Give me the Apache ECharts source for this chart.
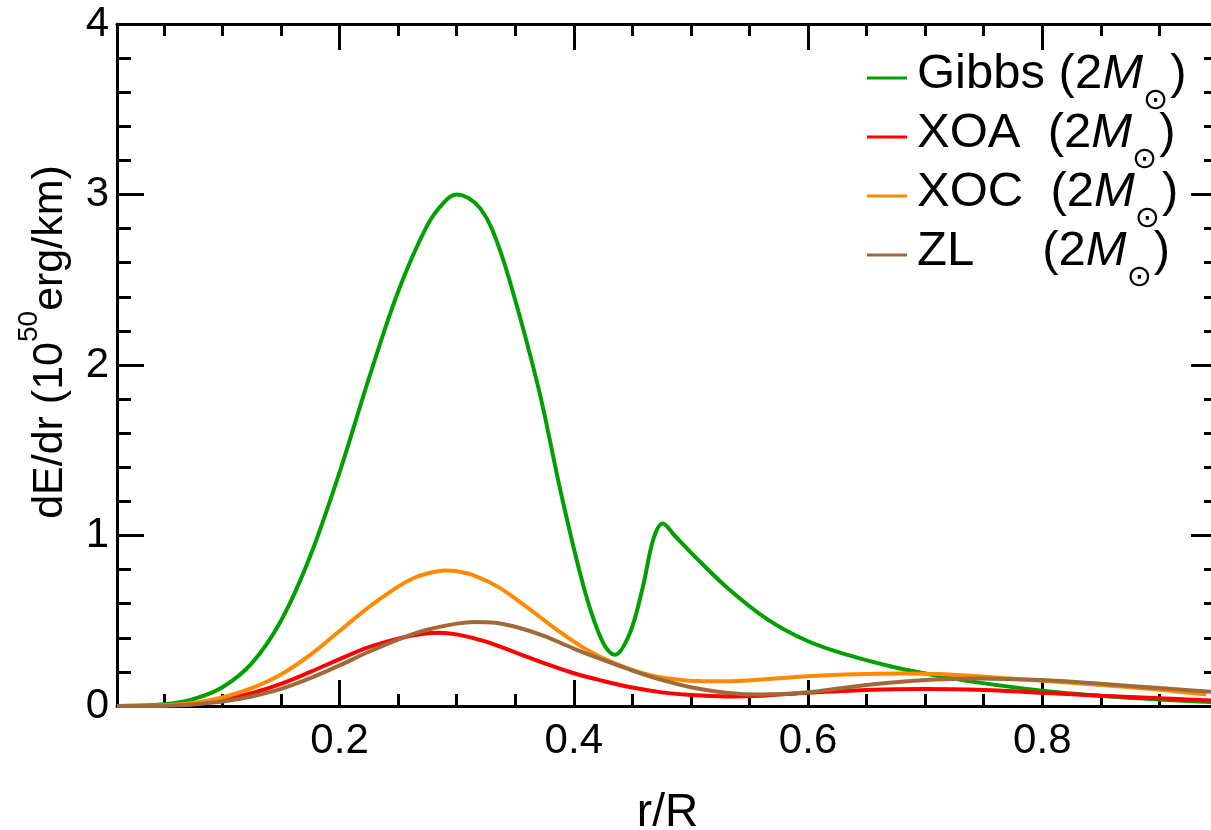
<!DOCTYPE html>
<html><head><meta charset="utf-8">
<script src="https://cdn.jsdelivr.net/npm/echarts@6/dist/echarts.min.js"></script>
<style>html,body{margin:0;padding:0;background:#fff}#c{width:1211px;height:830px}</style>
</head><body><div id="c"></div>
<script>
// ---- data ----
const seriesNames = ['Gibbs', 'XOA', 'XOC', 'ZL'];
const legendLabels = {
  Gibbs: '{n|Gibbs (2}{i|M}{s|\u2299}{n|)}',
  XOA:   '{n|XOA  (2}{i|M}{s|\u2299}{n|)}',
  XOC:   '{n|XOC  (2}{i|M}{s|\u2299}{n|)}',
  ZL:    '{n|ZL     (2}{i|M}{s|\u2299}{n|)}'
};
const rGibbs = [0.01,0.05,0.075,0.1,0.125,0.15,0.175,0.2,0.225,0.25,0.275,0.29,0.3,0.31,0.32,0.33,0.345,0.37,0.39,0.41,0.425,0.435,0.448,0.459,0.468,0.476,0.486,0.5,0.53,0.565,0.6,0.636,0.672,0.708,0.743,0.8,0.85,0.9,0.95];
const eGibbs = [0,0.01,0.04,0.11,0.25,0.50,0.88,1.37,1.92,2.43,2.82,2.96,3.0,2.98,2.92,2.80,2.50,1.86,1.22,0.66,0.37,0.30,0.43,0.70,0.98,1.07,1.00,0.90,0.70,0.51,0.38,0.295,0.23,0.18,0.14,0.09,0.06,0.038,0.022];
const rXOA = [0.01,0.05,0.075,0.1,0.125,0.15,0.175,0.2,0.225,0.25,0.27,0.285,0.3,0.325,0.35,0.375,0.4,0.425,0.45,0.475,0.5,0.53,0.56,0.6,0.65,0.7,0.75,0.8,0.85,0.9,0.95];
const eXOA = [0,0.003,0.012,0.035,0.075,0.13,0.2,0.275,0.345,0.395,0.422,0.43,0.42,0.378,0.315,0.25,0.192,0.147,0.108,0.08,0.064,0.056,0.06,0.078,0.094,0.10,0.094,0.078,0.06,0.045,0.03];
const rXOC = [0.01,0.05,0.075,0.1,0.125,0.15,0.175,0.2,0.225,0.25,0.265,0.28,0.29,0.3,0.315,0.335,0.36,0.385,0.41,0.435,0.46,0.485,0.51,0.54,0.57,0.6,0.64,0.68,0.71,0.75,0.8,0.85,0.9,0.94];
const eXOC = [0,0.004,0.017,0.05,0.105,0.185,0.30,0.44,0.58,0.70,0.755,0.785,0.795,0.79,0.765,0.70,0.58,0.45,0.335,0.25,0.19,0.158,0.145,0.147,0.16,0.174,0.186,0.19,0.187,0.172,0.148,0.123,0.095,0.067];
const rZL = [0.01,0.05,0.075,0.1,0.125,0.15,0.175,0.2,0.225,0.25,0.275,0.3,0.315,0.33,0.35,0.375,0.4,0.425,0.45,0.475,0.5,0.53,0.56,0.6,0.636,0.672,0.708,0.745,0.8,0.85,0.9,0.95];
const eZL = [0,0.002,0.009,0.026,0.056,0.10,0.163,0.238,0.318,0.39,0.447,0.483,0.493,0.49,0.465,0.41,0.337,0.27,0.208,0.153,0.11,0.078,0.067,0.08,0.112,0.138,0.155,0.162,0.152,0.13,0.105,0.08];
const xMajorTicks = [0.2, 0.4, 0.6, 0.8];
const xMinorTicks = [0.05,0.1,0.15,0.25,0.3,0.35,0.45,0.5,0.55,0.65,0.7,0.75,0.85,0.9];
const yMajorTicks = [0, 1, 2, 3, 4];
const yMinorTicks = [0.2,0.4,0.6,0.8,1.2,1.4,1.6,1.8,2.2,2.4,2.6,2.8,3.2,3.4,3.6,3.8];
const colors = ['#00a000', '#ff0000', '#ff8a00', '#a0693a'];

// ---- chart ----
const FONT = '"Liberation Sans", Arial, Helvetica, sans-serif';
const chart = echarts.init(document.getElementById('c'), null, {renderer: 'canvas'});
const X_MIN = 0.01, X_MAX = 0.95;
function xAx(pos, ticks, len, withLine, withLabel) {
  const a = {
    type: 'value', min: X_MIN, max: X_MAX, position: pos,
    splitLine: {show: false},
    axisLine: {show: withLine, onZero: false, lineStyle: {color: '#000', width: 3}},
    axisTick: {show: true, inside: true, length: len, customValues: ticks, lineStyle: {color: '#000', width: 3}},
    axisLabel: {show: false}
  };
  if (withLabel) {
    a.axisLabel = {show: true, customValues: ticks, formatter: v => v.toFixed(1), fontSize: 42, color: '#000', fontFamily: FONT, margin: 14};
    a.name = 'r/R'; a.nameLocation = 'middle'; a.nameGap = 84;
    a.nameTextStyle = {fontSize: 46, color: '#000', fontFamily: FONT};
  }
  return a;
}
function yAx(pos, ticks, len, withLine, withLabel) {
  const a = {
    type: 'value', min: 0, max: 4, position: pos,
    splitLine: {show: false},
    axisLine: {show: withLine, onZero: false, lineStyle: {color: '#000', width: 3}},
    axisTick: {show: true, inside: true, length: len, customValues: ticks, lineStyle: {color: '#000', width: 3}},
    axisLabel: {show: false}
  };
  if (withLabel) {
    a.axisLabel = {show: true, customValues: ticks, formatter: v => String(v), fontSize: 42, color: '#000', fontFamily: FONT, margin: 8};
    a.name = '{m|dE/dr (10}{sup|50}{m|erg/km)}';
    a.nameLocation = 'middle'; a.nameGap = 45;
    a.nameTextStyle = {color: '#000', fontFamily: FONT, padding: [0, 0, 0, 46],
      rich: {
        m: {fontSize: 43, lineHeight: 48, verticalAlign: 'bottom', fontFamily: FONT, color: '#000'},
        sup: {fontSize: 28, lineHeight: 28, padding: [0, 0, 29, 0], verticalAlign: 'bottom', fontFamily: FONT, color: '#000'}
      }};
  }
  return a;
}
const pairs = (r, e) => r.map((x, i) => [x, e[i]]);
const rs = [rGibbs, rXOA, rXOC, rZL];
const es = [eGibbs, eXOA, eXOC, eZL];

chart.setOption({
  animation: false,
  backgroundColor: '#fff',
  grid: {left: 117, right: -7, top: 24, bottom: 124, containLabel: false, outerBoundsMode: 'none'},
  xAxis: [
    xAx('bottom', xMajorTicks, 26, true, true),
    xAx('bottom', xMinorTicks, 12, false, false),
    xAx('top', xMajorTicks, 26, true, false),
    xAx('top', xMinorTicks, 12, false, false)
  ],
  yAxis: [
    yAx('left', yMajorTicks, 27, true, true),
    yAx('left', yMinorTicks, 14, false, false),
    yAx('right', yMajorTicks, 27, true, false),
    yAx('right', yMinorTicks, 14, false, false)
  ],
  legend: {
    orient: 'vertical', left: 867, top: 50, padding: 0, itemGap: -7,
    itemWidth: 40, itemHeight: 3, icon: 'rect',
    data: seriesNames,
    formatter: name => legendLabels[name],
    textStyle: {
      fontSize: 49, color: '#000', fontFamily: FONT, padding: [0, 0, 0, 5],
      rich: {
        n: {fontSize: 49, lineHeight: 56, verticalAlign: 'top', fontFamily: FONT, color: '#000'},
        i: {fontSize: 49, lineHeight: 56, verticalAlign: 'top', fontStyle: 'italic', fontFamily: FONT, color: '#000'},
        s: {fontSize: 30, lineHeight: 30, padding: [36, 2, 0, 0], verticalAlign: 'top', fontFamily: '"DejaVu Sans", sans-serif', color: '#000'}
      }
    }
  },
  series: seriesNames.map((n, k) => ({
    name: n, type: 'line', xAxisIndex: 0, yAxisIndex: 0,
    data: pairs(rs[k], es[k]),
    smooth: 0.35, showSymbol: false, symbol: 'none', clip: true,
    color: colors[k],
    lineStyle: {color: colors[k], width: 4}
  }))
});
</script>
</body></html>
